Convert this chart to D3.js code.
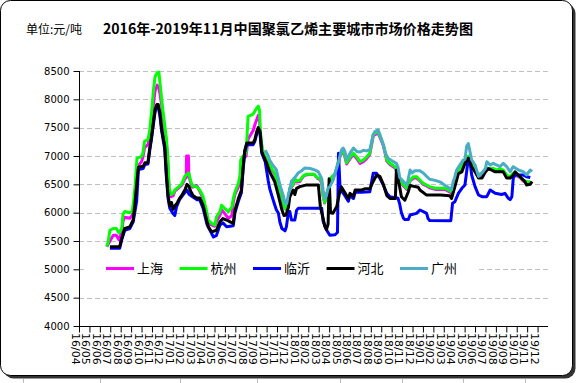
<!DOCTYPE html>
<html><head><meta charset="utf-8">
<script src="https://cdn.jsdelivr.net/npm/d3@7"></script>
<style>body{margin:0;background:#fff}svg{display:block}</style>
</head><body><svg id="c" width="577" height="383"></svg>
<script>
// ---------------- DATA ----------------
const monthLabels = ["16/04","16/05","16/06","16/07","16/08","16/09","16/10","16/11","16/12",
"17/01","17/02","17/03","17/04","17/05","17/06","17/07","17/08","17/09","17/10","17/11","17/12",
"18/01","18/02","18/03","18/04","18/05","18/06","18/07","18/08","18/09","18/10","18/11","18/12",
"19/01","19/02","19/03","19/04","19/05","19/06","19/07","19/08","19/09","19/10","19/11","19/12"];
const yTicks = [4000,4500,5000,5500,6000,6500,7000,7500,8000,8500];
const seriesNames = ["上海","杭州","临沂","河北","广州"];
const titleText = "2016年-2019年11月中国聚氯乙烯主要城市市场价格走势图";
const unitText = "单位:元/吨";

const shanghai = [["2016-06-21",5400],["2016-06-30",5500],["2016-07-10",5600],["2016-07-19",5600],["2016-07-27",5520],["2016-08-04",5650],["2016-08-08",5850],["2016-08-13",5920],["2016-08-28",5900],["2016-09-04",5950],["2016-09-08",6050],["2016-09-12",6250],["2016-09-18",6800],["2016-10-01",6900],["2016-10-05",6980],["2016-10-10",7150],["2016-10-20",7200],["2016-10-25",7350],["2016-11-01",7700],["2016-11-06",7950],["2016-11-10",8150],["2016-11-16",8250],["2016-11-21",8200],["2016-11-24",8100],["2016-11-29",7900],["2016-12-03",7700],["2016-12-08",7450],["2016-12-13",7250],["2016-12-17",6900],["2016-12-21",6400],["2016-12-26",6280],["2017-01-02",6300],["2017-01-07",6380],["2017-01-17",6430],["2017-01-27",6480],["2017-02-06",6600],["2017-02-09",6620],["2017-02-10",7000],["2017-02-15",7000],["2017-02-16",6650],["2017-02-21",6530],["2017-02-26",6450],["2017-03-10",6480],["2017-03-19",6380],["2017-03-29",6250],["2017-04-09",5950],["2017-04-13",5820],["2017-04-23",5780],["2017-05-02",5760],["2017-05-07",5850],["2017-05-17",5950],["2017-05-22",6050],["2017-06-01",5980],["2017-06-11",5900],["2017-06-21",5950],["2017-06-25",6180],["2017-06-30",6330],["2017-07-10",6450],["2017-07-15",6550],["2017-07-17",6850],["2017-07-24",6950],["2017-08-02",7000],["2017-08-08",7300],["2017-08-23",7450],["2017-08-28",7550],["2017-09-03",7650],["2017-09-07",7720],["2017-09-11",7650],["2017-09-12",7450],["2017-09-17",7150],["2017-09-22",7020],["2017-09-27",6960],["2017-10-06",6860],["2017-10-16",6760],["2017-10-25",6680],["2017-10-30",6560],["2017-11-05",6440],["2017-11-15",6270],["2017-11-19",6150],["2017-11-24",6070],["2017-11-29",6050],["2017-12-04",6230],["2017-12-08",6420],["2017-12-18",6490],["2017-12-23",6580],["2017-12-28",6540],["2018-01-07",6550],["2018-01-17",6640],["2018-01-27",6670],["2018-02-16",6680],["2018-02-25",6610],["2018-03-05",6580],["2018-03-10",6520],["2018-03-14",6290],["2018-03-19",6170],["2018-03-24",6310],["2018-03-29",6400],["2018-04-08",6600],["2018-04-18",6670],["2018-05-02",6980],["2018-05-07",7050],["2018-05-12",7080],["2018-05-17",6980],["2018-05-22",6860],["2018-06-01",6950],["2018-06-11",7030],["2018-06-21",6950],["2018-06-30",6870],["2018-07-10",6900],["2018-07-19",6950],["2018-07-29",7030],["2018-08-08",7350],["2018-08-13",7380],["2018-08-23",7400],["2018-09-02",7260],["2018-09-07",7180],["2018-09-12",7060],["2018-09-17",6910],["2018-09-26",6850],["2018-10-11",6790],["2018-10-20",6680],["2018-10-25",6560],["2018-11-05",6470],["2018-11-15",6410],["2018-11-24",6560],["2018-12-04",6610],["2018-12-13",6610],["2018-12-23",6560],["2019-01-02",6500],["2019-01-12",6470],["2019-01-21",6440],["2019-02-06",6410],["2019-03-05",6410],["2019-03-14",6380],["2019-03-24",6350],["2019-03-29",6460],["2019-04-08",6670],["2019-04-18",6760],["2019-04-27",6850],["2019-05-07",6940],["2019-05-12",6980],["2019-05-17",6910],["2019-05-26",6820],["2019-06-06",6680],["2019-06-15",6660],["2019-06-25",6700],["2019-07-05",6760],["2019-07-24",6760],["2019-08-04",6730],["2019-08-13",6760],["2019-08-23",6730],["2019-09-02",6650],["2019-09-12",6620],["2019-09-21",6680],["2019-10-01",6650],["2019-10-11",6620],["2019-10-20",6560],["2019-10-30",6530],["2019-11-10",6530]];

const hangzhou = [["2016-06-21",5400],["2016-06-25",5490],["2016-06-30",5690],["2016-07-10",5720],["2016-07-19",5720],["2016-07-27",5640],["2016-08-04",5720],["2016-08-08",5980],["2016-08-13",6020],["2016-08-28",6000],["2016-09-04",6020],["2016-09-08",6200],["2016-09-12",6450],["2016-09-18",6960],["2016-10-01",6990],["2016-10-05",7050],["2016-10-10",7260],["2016-10-20",7290],["2016-10-25",7430],["2016-11-01",7850],["2016-11-06",8200],["2016-11-10",8400],["2016-11-16",8470],["2016-11-21",8480],["2016-11-24",8300],["2016-11-29",8000],["2016-12-03",7780],["2016-12-08",7550],["2016-12-13",7300],["2016-12-17",6980],["2016-12-21",6450],["2016-12-26",6320],["2017-01-02",6340],["2017-01-07",6400],["2017-01-17",6450],["2017-01-27",6500],["2017-02-06",6650],["2017-02-16",6700],["2017-02-21",6560],["2017-02-26",6470],["2017-03-10",6460],["2017-03-19",6400],["2017-03-29",6290],["2017-04-09",6000],["2017-04-13",5870],["2017-04-23",5810],["2017-05-02",5780],["2017-05-07",5926],["2017-05-17",6014],["2017-05-22",6131],["2017-06-01",6072],["2017-06-11",6014],["2017-06-21",6101],["2017-06-25",6248],["2017-06-30",6365],["2017-07-10",6520],["2017-07-15",6650],["2017-07-17",6930],["2017-07-24",7000],["2017-08-02",7050],["2017-08-08",7700],["2017-08-23",7740],["2017-08-28",7790],["2017-09-03",7850],["2017-09-07",7880],["2017-09-11",7800],["2017-09-12",7500],["2017-09-17",7200],["2017-09-22",7050],["2017-09-27",6990],["2017-10-06",6880],["2017-10-16",6780],["2017-10-25",6700],["2017-10-30",6580],["2017-11-05",6460],["2017-11-15",6290],["2017-11-19",6170],["2017-11-24",6080],["2017-11-29",6060],["2017-12-04",6250],["2017-12-08",6440],["2017-12-18",6500],["2017-12-23",6600],["2017-12-28",6560],["2018-01-07",6570],["2018-01-17",6650],["2018-01-27",6680],["2018-02-16",6680],["2018-02-25",6620],["2018-03-05",6600],["2018-03-10",6540],["2018-03-14",6300],["2018-03-19",6180],["2018-03-24",6330],["2018-03-29",6420],["2018-04-08",6630],["2018-04-18",6690],["2018-05-02",7000],["2018-05-07",7070],["2018-05-12",7100],["2018-05-17",7000],["2018-05-22",6880],["2018-06-01",6980],["2018-06-11",7050],["2018-06-21",6980],["2018-06-30",6900],["2018-07-10",6930],["2018-07-19",6980],["2018-07-29",7050],["2018-08-08",7380],["2018-08-13",7400],["2018-08-23",7420],["2018-09-02",7280],["2018-09-07",7200],["2018-09-12",7080],["2018-09-17",6930],["2018-09-26",6870],["2018-10-11",6812],["2018-10-20",6700],["2018-10-25",6577],["2018-11-05",6488],["2018-11-15",6430],["2018-11-24",6577],["2018-12-04",6635],["2018-12-13",6635],["2018-12-23",6577],["2019-01-02",6518],["2019-01-12",6488],["2019-01-21",6459],["2019-02-06",6430],["2019-03-05",6430],["2019-03-14",6400],["2019-03-24",6370],["2019-03-29",6480],["2019-04-08",6694],["2019-04-18",6783],["2019-04-27",6870],["2019-05-07",6960],["2019-05-12",7000],["2019-05-17",6930],["2019-05-26",6841],["2019-06-06",6694],["2019-06-15",6680],["2019-06-25",6724],["2019-07-05",6783],["2019-07-24",6780],["2019-08-04",6750],["2019-08-13",6780],["2019-08-23",6750],["2019-09-02",6665],["2019-09-12",6635],["2019-09-21",6700],["2019-10-01",6665],["2019-10-11",6635],["2019-10-20",6577],["2019-10-30",6547],["2019-11-10",6547]];

const linyi = [["2016-06-30",5370],["2016-07-29",5370],["2016-08-04",5520],["2016-08-13",5690],["2016-08-28",5720],["2016-09-07",5840],["2016-09-17",6200],["2016-09-22",6760],["2016-10-06",6780],["2016-10-11",6850],["2016-10-20",6860],["2016-10-25",7080],["2016-10-30",7280],["2016-11-05",7550],["2016-11-10",7780],["2016-11-15",7880],["2016-11-19",7870],["2016-11-24",7700],["2016-11-29",7440],["2016-12-08",7120],["2016-12-13",6620],["2016-12-18",6250],["2016-12-23",6080],["2017-01-02",5980],["2017-01-07",5950],["2017-01-12",6100],["2017-01-21",6230],["2017-02-01",6320],["2017-02-11",6400],["2017-02-16",6330],["2017-02-26",6280],["2017-03-10",6230],["2017-03-19",6230],["2017-03-29",6080],["2017-04-09",5800],["2017-04-18",5690],["2017-04-28",5570],["2017-05-07",5600],["2017-05-17",5780],["2017-05-26",5820],["2017-06-06",5750],["2017-06-16",5760],["2017-06-25",5770],["2017-06-30",6000],["2017-07-10",6200],["2017-07-19",6350],["2017-07-24",6750],["2017-07-29",7070],["2017-08-04",7200],["2017-08-23",7200],["2017-08-28",7260],["2017-09-03",7400],["2017-09-07",7470],["2017-09-12",7400],["2017-09-17",7050],["2017-09-27",6900],["2017-10-06",6560],["2017-10-10",6430],["2017-10-16",6310],["2017-10-25",6140],["2017-10-30",6050],["2017-11-05",5990],["2017-11-09",5840],["2017-11-15",5720],["2017-11-24",5680],["2017-11-28",5750],["2017-12-04",6020],["2017-12-08",6020],["2017-12-13",5870],["2017-12-23",5870],["2017-12-28",6040],["2018-01-02",6076],["2018-03-10",6076],["2018-03-14",5850],["2018-03-24",5700],["2018-04-03",5600],["2018-04-18",5610],["2018-04-25",5650],["2018-04-28",7050],["2018-05-02",6500],["2018-05-07",6380],["2018-05-17",6300],["2018-05-27",6200],["2018-06-01",6300],["2018-06-11",6250],["2018-06-16",6360],["2018-07-05",6360],["2018-07-29",6370],["2018-08-08",6694],["2018-08-18",6694],["2018-08-28",6606],["2018-09-07",6488],["2018-09-17",6341],["2018-09-26",6282],["2018-10-20",6253],["2018-10-25",6150],["2018-10-30",6000],["2018-11-05",5900],["2018-11-09",5880],["2018-11-19",5880],["2018-11-24",5959],["2018-12-13",5988],["2018-12-23",6047],["2019-01-02",6020],["2019-01-12",5988],["2019-01-16",5900],["2019-01-21",5860],["2019-03-22",5859],["2019-03-27",6165],["2019-04-03",6194],["2019-04-13",6341],["2019-04-23",6430],["2019-05-02",6488],["2019-05-07",6724],["2019-05-12",6960],["2019-05-17",6900],["2019-05-22",6665],["2019-06-01",6459],["2019-06-11",6312],["2019-06-21",6282],["2019-07-05",6282],["2019-07-15",6400],["2019-07-30",6341],["2019-08-18",6320],["2019-08-28",6341],["2019-09-07",6253],["2019-09-12",6230],["2019-09-17",6282],["2019-09-21",6606],["2019-09-26",6665],["2019-10-20",6665],["2019-10-30",6635],["2019-11-10",6620]];

const hebei = [["2016-06-30",5400],["2016-07-29",5400],["2016-08-04",5545],["2016-08-13",5720],["2016-08-28",5750],["2016-09-07",5870],["2016-09-12",6150],["2016-09-17",6500],["2016-09-22",6800],["2016-10-06",6820],["2016-10-11",6880],["2016-10-20",6880],["2016-10-25",7120],["2016-10-30",7300],["2016-11-05",7590],["2016-11-10",7820],["2016-11-15",7910],["2016-11-19",7910],["2016-11-24",7760],["2016-11-29",7470],["2016-12-04",7300],["2016-12-08",7180],["2016-12-13",6680],["2016-12-18",6290],["2016-12-23",6120],["2016-12-28",6180],["2017-01-02",6060],["2017-01-07",6120],["2017-01-12",6150],["2017-01-21",6250],["2017-01-26",6290],["2017-02-01",6350],["2017-02-06",6410],["2017-02-11",6500],["2017-02-16",6470],["2017-02-21",6380],["2017-02-28",6300],["2017-03-10",6260],["2017-03-19",6260],["2017-03-24",6200],["2017-03-29",6131],["2017-04-04",5984],["2017-04-13",5750],["2017-04-23",5662],["2017-05-07",5690],["2017-05-17",5838],["2017-05-26",5896],["2017-06-06",5870],["2017-06-16",5838],["2017-06-25",5808],["2017-06-30",6043],["2017-07-10",6248],["2017-07-19",6394],["2017-07-24",6780],["2017-07-29",7100],["2017-08-04",7230],["2017-08-23",7230],["2017-08-28",7290],["2017-09-03",7440],["2017-09-07",7500],["2017-09-12",7440],["2017-09-17",7080],["2017-09-22",7000],["2017-10-01",6880],["2017-10-10",6720],["2017-10-25",6550],["2017-11-05",6300],["2017-11-15",6050],["2017-11-21",5950],["2017-11-27",5960],["2017-12-04",6100],["2017-12-08",6280],["2017-12-18",6400],["2017-12-23",6320],["2017-12-28",6430],["2018-01-07",6460],["2018-01-27",6490],["2018-02-28",6490],["2018-03-06",6100],["2018-03-14",5900],["2018-03-19",5760],["2018-03-24",5700],["2018-03-29",5800],["2018-04-01",6600],["2018-04-05",6000],["2018-04-12",5990],["2018-04-23",6110],["2018-05-02",6380],["2018-05-07",6450],["2018-05-17",6350],["2018-05-27",6250],["2018-06-01",6340],["2018-06-11",6290],["2018-06-16",6400],["2018-07-05",6400],["2018-07-14",6420],["2018-07-29",6420],["2018-08-08",6550],["2018-08-18",6660],["2018-08-28",6640],["2018-09-07",6500],["2018-09-17",6300],["2018-09-26",6250],["2018-10-12",6250],["2018-10-15",6750],["2018-10-20",6600],["2018-10-25",6450],["2018-10-30",6280],["2018-11-09",6220],["2018-11-19",6370],["2018-11-24",6480],["2018-12-08",6460],["2018-12-18",6450],["2018-12-23",6400],["2019-01-12",6310],["2019-02-20",6310],["2019-03-19",6300],["2019-03-24",6250],["2019-04-03",6460],["2019-04-13",6690],["2019-04-23",6720],["2019-05-02",6870],["2019-05-12",6960],["2019-05-17",6900],["2019-05-22",6810],["2019-06-01",6720],["2019-06-11",6610],["2019-06-21",6610],["2019-07-01",6720],["2019-07-10",6780],["2019-07-30",6720],["2019-08-23",6720],["2019-09-02",6610],["2019-09-12",6610],["2019-09-21",6665],["2019-09-26",6720],["2019-10-15",6610],["2019-10-25",6550],["2019-10-30",6490],["2019-11-10",6500],["2019-11-15",6550]];

const guangzhou = [["2017-09-27",7100],["2017-10-06",7000],["2017-10-10",6930],["2017-10-19",6840],["2017-10-30",6760],["2017-11-05",6600],["2017-11-09",6500],["2017-11-19",6300],["2017-11-24",6170],["2017-11-29",6160],["2017-12-04",6330],["2017-12-08",6400],["2017-12-13",6560],["2017-12-23",6620],["2018-01-02",6700],["2018-01-12",6740],["2018-01-22",6790],["2018-02-06",6780],["2018-02-20",6750],["2018-02-28",6720],["2018-03-10",6600],["2018-03-14",6400],["2018-03-19",6250],["2018-03-24",6300],["2018-03-29",6430],["2018-04-03",6460],["2018-04-13",6580],["2018-04-18",6700],["2018-04-26",6850],["2018-05-02",7000],["2018-05-07",7110],["2018-05-12",7140],["2018-05-17",7080],["2018-05-22",6935],["2018-06-01",7050],["2018-06-11",7140],["2018-06-21",7080],["2018-06-30",7070],["2018-07-10",7100],["2018-07-19",7090],["2018-07-29",7110],["2018-08-08",7370],["2018-08-13",7430],["2018-08-23",7460],["2018-08-28",7380],["2018-09-07",7200],["2018-09-12",7060],["2018-09-21",6960],["2018-10-06",6900],["2018-10-15",6870],["2018-10-20",6800],["2018-10-25",6620],["2018-11-05",6550],["2018-11-15",6488],["2018-11-24",6753],["2018-11-29",6700],["2018-12-08",6740],["2018-12-23",6740],["2019-01-02",6700],["2019-01-12",6640],["2019-01-21",6590],["2019-02-06",6570],["2019-02-20",6540],["2019-03-05",6480],["2019-03-19",6430],["2019-03-24",6400],["2019-03-29",6547],["2019-04-03",6635],["2019-04-08",6753],["2019-04-18",6850],["2019-04-27",6930],["2019-05-02",6940],["2019-05-07",7170],["2019-05-12",7220],["2019-05-17",7076],["2019-05-22",6930],["2019-06-01",6841],["2019-06-11",6640],["2019-06-21",6700],["2019-07-01",6783],["2019-07-05",6900],["2019-07-15",6841],["2019-07-24",6870],["2019-08-04",6841],["2019-08-13",6812],["2019-08-23",6870],["2019-09-02",6812],["2019-09-12",6724],["2019-09-21",6812],["2019-10-06",6753],["2019-10-20",6724],["2019-10-30",6665],["2019-11-10",6753],["2019-11-15",6724]];

// ---------------- STYLE ----------------
const seriesColors = ["#ff00ff","#00ff00","#0000ff","#000000","#4bacc6"];
const allSeries = [shanghai, hangzhou, linyi, hebei, guangzhou];

// ---------------- DRAW ----------------
const svg = d3.select("#c");
const x = d3.scaleLinear().domain([0, 45]).range([79, 548]);
const y = d3.scaleLinear().domain([4000, 8500]).range([326, 71]);
function monthIndex(s){
  const [Y,M,D] = s.split("-").map(Number);
  const dim = new Date(Y, M, 0).getDate();
  return (Y-2016)*12 + (M-4) + (D-1)/dim;
}

svg.append("rect").attr("width",577).attr("height",383).attr("fill","#fff");
// faint lines below the frame
[23,100,180,257,340,402,463,525].forEach(px=>{
  svg.append("line").attr("x1",px+0.5).attr("x2",px+0.5).attr("y1",379).attr("y2",383).attr("stroke","#bbb");
});
// frame with shadow
svg.append("rect").attr("x",3.5).attr("y",3.5).attr("width",572).attr("height",375)
  .attr("rx",10).attr("fill","#333");
svg.append("rect").attr("x",0.5).attr("y",0.5).attr("width",572).attr("height",375)
  .attr("rx",10).attr("fill","#fff").attr("stroke","#000").attr("stroke-width",1);

// titles
svg.append("text").attr("x",26).attr("y",34).text(unitText)
  .attr("font-family","'Noto Sans CJK SC'").attr("font-size",12).attr("fill","#000");
svg.append("text").attr("x",103).attr("y",34).text(titleText)
  .attr("font-family","'Noto Sans CJK SC'").attr("font-size",14).attr("font-weight","bold")
  .attr("textLength",370).attr("lengthAdjust","spacingAndGlyphs").attr("fill","#000");

// gridlines
svg.append("g").selectAll("line").data(yTicks.filter(v=>v>4000)).join("line")
  .attr("x1",79).attr("x2",548).attr("y1",d=>Math.round(y(d))+0.5).attr("y2",d=>Math.round(y(d))+0.5)
  .attr("stroke","#c0c0c0").attr("stroke-dasharray","5,3");

// series
const line = d3.line().x(d=>x(monthIndex(d[0]))).y(d=>y(d[1]));
allSeries.forEach((s,i)=>{
  svg.append("path").datum(s).attr("d",line).attr("fill","none")
    .attr("stroke",seriesColors[i]).attr("stroke-width",3).attr("stroke-linejoin","round");
});

// legend
const lg = svg.append("g");
lg.append("rect").attr("x",87).attr("y",256).attr("width",390).attr("height",25).attr("fill","#fff");
seriesNames.forEach((n,i)=>{
  const lx = 106 + i*73.5;
  lg.append("line").attr("x1",lx).attr("x2",lx+28).attr("y1",268.5).attr("y2",268.5)
    .attr("stroke",seriesColors[i]).attr("stroke-width",3);
  lg.append("text").attr("x",lx+31).attr("y",273).text(n)
    .attr("font-family","'Noto Sans CJK SC'").attr("font-size",13).attr("fill","#000");
});

// y axis
const yAxis = d3.axisLeft(y).tickValues(yTicks).tickSize(6).tickPadding(4).tickFormat(d3.format("d"));
const ga = svg.append("g").attr("transform","translate(79.5,0)").call(yAxis);
ga.select(".domain").attr("d","M0,71V326.5");
ga.selectAll("text").attr("font-family","'DejaVu Sans'").attr("font-size",10).attr("fill","#000");

// x axis
const xAxis = d3.axisBottom(x).tickValues(d3.range(0,45)).tickSize(6).tickFormat(()=> "");
const gx = svg.append("g").attr("transform","translate(0,326.5)").call(xAxis);
gx.select(".domain").attr("d","M79,0H548");
gx.selectAll("line").attr("stroke","#000");
svg.append("g").selectAll("text").data(monthLabels).join("text")
  .attr("transform",(d,i)=>`translate(${x(i)-7},333) rotate(90)`)
  .text(d=>d).attr("font-family","'DejaVu Sans'").attr("font-size",11).attr("fill","#000");
</script>
</body></html>
